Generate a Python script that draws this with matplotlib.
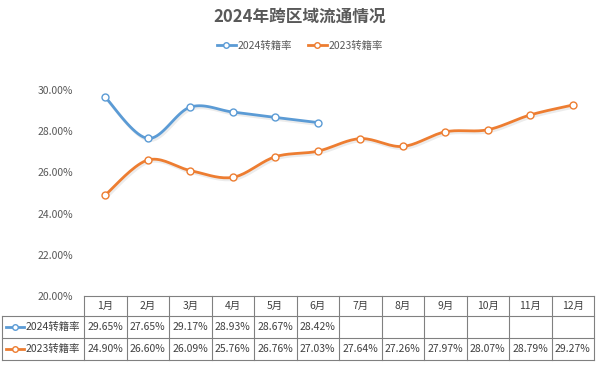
import numpy as np
import matplotlib
matplotlib.use("Agg")
from matplotlib import pyplot as plt
from matplotlib.lines import Line2D
import matplotlib.patheffects as pe

plt.rcParams['font.family'] = ['Noto Sans CJK SC', 'DejaVu Sans']

months = ["1月", "2月", "3月", "4月", "5月", "6月", "7月", "8月", "9月", "10月", "11月", "12月"]
rate_2024 = [29.65, 27.65, 29.17, 28.93, 28.67, 28.42]
rate_2023 = [24.90, 26.60, 26.09, 25.76, 26.76, 27.03, 27.64, 27.26, 27.97, 28.07, 28.79, 29.27]
yticks = [20, 22, 24, 26, 28, 30]

blue = "#5B9BD5"
orange = "#ED7D31"
grey_txt = "#595959"
border = "#808080"


def smooth(xs, ys, n=20):
    # excel-like smoothed line: bezier with catmull-rom control points
    xs = np.asarray(xs, float)
    ys = np.asarray(ys, float)
    px = np.concatenate([[xs[0]], xs, [xs[-1]]])
    py = np.concatenate([[ys[0]], ys, [ys[-1]]])
    ox, oy = [], []
    for i in range(1, len(px) - 2):
        p0 = np.array([px[i], py[i]])
        p3 = np.array([px[i + 1], py[i + 1]])
        c1 = p0 + (np.array([px[i + 1], py[i + 1]]) - np.array([px[i - 1], py[i - 1]])) / 6
        c2 = p3 - (np.array([px[i + 2], py[i + 2]]) - np.array([px[i], py[i]])) / 6
        t = np.linspace(0, 1, n)[:, None]
        b = (1 - t) ** 3 * p0 + 3 * (1 - t) ** 2 * t * c1 + 3 * (1 - t) * t ** 2 * c2 + t ** 3 * p3
        ox.extend(b[:, 0])
        oy.extend(b[:, 1])
    return ox, oy


W, H = 600, 365
fig = plt.figure(figsize=(6, 3.65), dpi=100)

def fx(px):
    return px / W

def fy(py):
    return 1 - py / H

left, right, top, bottom = 84, 594, 90, 296
ax = fig.add_axes([fx(left), fy(bottom), fx(right - left), fy(top) - fy(bottom)])

shadow = [pe.SimpleLineShadow(offset=(1, -1.5), alpha=0.15, shadow_color="gray"), pe.Normal()]
for vals, col in [(rate_2024, blue), (rate_2023, orange)]:
    x = np.arange(len(vals))
    sx, sy = smooth(x, vals)
    ax.plot(sx, sy, color=col, lw=2.0, solid_capstyle="round", path_effects=shadow, zorder=2)
    ax.plot(x, vals, ls="none", marker="o", ms=5, mfc="white", mec=col, mew=1, zorder=3)

ax.set_xlim(-0.5, 11.5)
ax.set_ylim(20, 30)
ax.set_yticks(yticks)
ax.set_yticklabels([f"{v:.2f}%" for v in yticks], color=grey_txt, fontsize=7.5)
ax.tick_params(axis="y", length=0, pad=8)
ax.set_xticks([])
for s in ax.spines.values():
    s.set_visible(False)

# title + legend
fig.text(0.5, fy(17), "2024年跨区域流通情况", ha="center", va="center",
         fontsize=12, fontweight="bold", color=grey_txt)
handles = [Line2D([], [], color=blue, lw=2, marker="o", ms=4, mfc="white", mec=blue),
           Line2D([], [], color=orange, lw=2, marker="o", ms=4, mfc="white", mec=orange)]
fig.legend(handles, ["2024转籍率", "2023转籍率"], loc="center", bbox_to_anchor=(0.5, fy(46)),
           ncol=2, frameon=False, fontsize=7.5, labelcolor=grey_txt, handlelength=1.8,
           columnspacing=1.5, handletextpad=0.2)

# data table drawn below the plot
row_y = [296, 316, 338, 360]
col_x = [left + i * (right - left) / 12 for i in range(13)]
lkw = dict(color=border, lw=0.8, transform=fig.transFigure)
fig.add_artist(Line2D([fx(left), fx(right)], [fy(296), fy(296)], **lkw))
for yy in row_y[1:]:
    fig.add_artist(Line2D([fx(2), fx(right)], [fy(yy), fy(yy)], **lkw))
for xx in col_x:
    fig.add_artist(Line2D([fx(xx), fx(xx)], [fy(296), fy(360)], **lkw))
fig.add_artist(Line2D([fx(2), fx(2)], [fy(316), fy(360)], **lkw))

tkw = dict(ha="center", va="center", fontsize=7.5, color="#404040")
for i, m in enumerate(months):
    cx = (col_x[i] + col_x[i + 1]) / 2
    fig.text(fx(cx), fy(306), m, **tkw)
for r, (vals, col, lab) in enumerate([(rate_2024, blue, "2024转籍率"), (rate_2023, orange, "2023转籍率")]):
    cy = (row_y[r + 1] + row_y[r + 2]) / 2
    for i, v in enumerate(vals):
        cx = (col_x[i] + col_x[i + 1]) / 2
        fig.text(fx(cx), fy(cy), f"{v:.2f}%", **tkw)
    fig.add_artist(Line2D([fx(6), fx(24)], [fy(cy), fy(cy)], color=col, lw=2, transform=fig.transFigure))
    fig.add_artist(Line2D([fx(15)], [fy(cy)], ls="none", marker="o", ms=4, mfc="white", mec=col,
                          mew=1, transform=fig.transFigure))
    fig.text(fx(26), fy(cy), lab, ha="left", va="center", fontsize=7.5, color="#404040")

fig.savefig("out.png", dpi=100, facecolor="white")
